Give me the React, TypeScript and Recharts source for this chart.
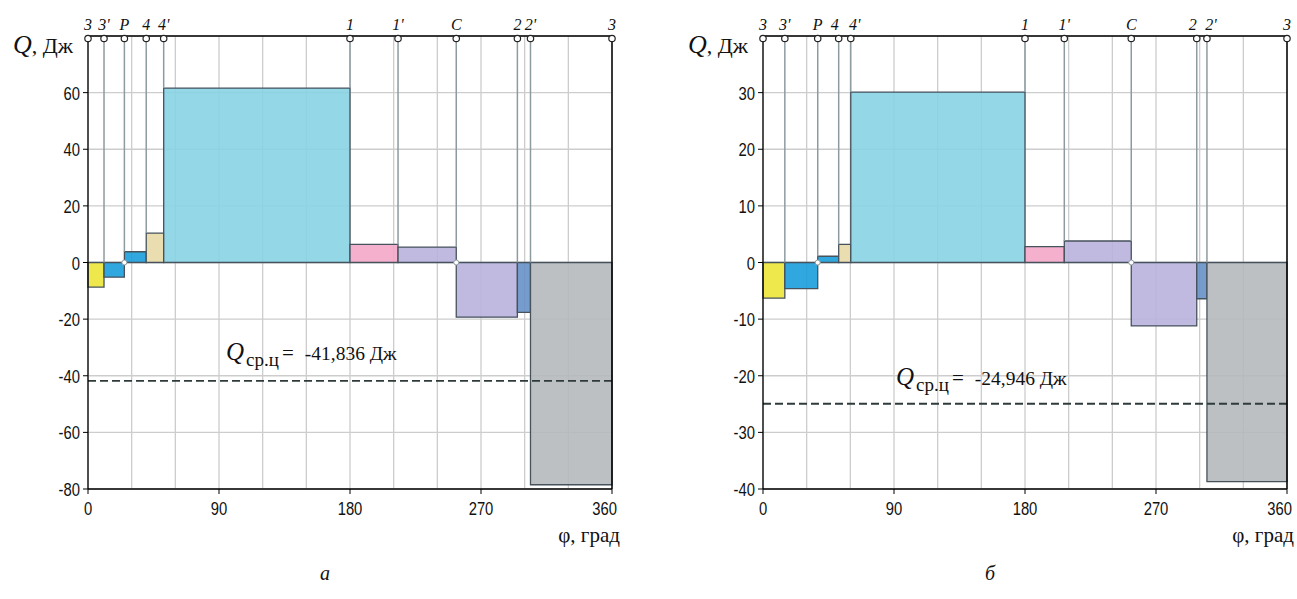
import React from 'react';
import {
  ComposedChart,
  Line,
  XAxis,
  YAxis,
  CartesianGrid,
  ReferenceArea,
  ReferenceLine,
  ReferenceDot,
} from 'recharts';

// cycle points (deg) and the work Q (J) on each interval between them
const POINT_LABELS = ['3', "3'", 'P', '4', "4'", '1', "1'", 'C', '2', "2'", '3'];

const LEFT_BOUNDS = [0, 11, 25, 40, 52, 180, 213, 253, 295, 304, 360];
const LEFT_VALUES = [-8.7, -5.2, 3.8, 10.4, 61.6, 6.4, 5.45, -19.3, -17.6, -78.5];
const LEFT_MEAN = -41.836;
const LEFT_Y_TICKS = [-80, -60, -40, -20, 0, 20, 40, 60];

const RIGHT_BOUNDS = [0, 15, 37.6, 52, 60.3, 180, 207, 253, 298, 305, 360];
const RIGHT_VALUES = [-6.3, -4.6, 1.1, 3.2, 30.1, 2.8, 3.8, -11.2, -6.4, -38.7];
const RIGHT_MEAN = -24.946;
const RIGHT_Y_TICKS = [-40, -30, -20, -10, 0, 10, 20, 30];

const X_TICKS = [0, 30, 60, 90, 120, 150, 180, 210, 240, 270, 300, 330, 360];
const X_LABELS = [0, 90, 180, 270, 360];

const SEGMENT_COLORS = [
  '#ece63a',
  '#1a9fdc',
  '#1a9fdc',
  '#e8d9a6',
  '#88d3e4',
  '#f4a7c8',
  '#b9b1dd',
  '#b9b1dd',
  '#6691c6',
  '#b5b9bd',
];

const SERIF = "'Liberation Serif', 'Times New Roman', serif";
const SANS = "'Liberation Sans', Arial, sans-serif";
const MARK_LINE = '#8d9ba1';
const NARROW = 0.78;

function XTick(props: any) {
  const { x, y, payload } = props;
  if (!X_LABELS.includes(payload.value)) return <g />;
  const last = payload.value === X_LABELS[X_LABELS.length - 1];
  return (
    <g>
      <line x1={x} x2={x} y1={y} y2={y + 5} stroke="#000" />
      <text
        transform={`translate(${last ? x + 5 : x},${y + 26}) scale(${NARROW},1)`}
        textAnchor={last ? 'end' : 'middle'}
        fontSize={19}
        fontFamily={SANS}
        fill="#111"
      >
        {payload.value}
      </text>
    </g>
  );
}

function YTick(props: any) {
  const { x, y, payload } = props;
  return (
    <text
      transform={`translate(${x},${y + 7}) scale(${NARROW},1)`}
      textAnchor="end"
      fontSize={19}
      fontFamily={SANS}
      fill="#111"
    >
      {payload.value}
    </text>
  );
}

function topMarker(label: string, dx: number) {
  return (props: any) => {
    const { cx, cy } = props;
    return (
      <g>
        <circle cx={cx} cy={cy + 2.5} r={3.2} fill="#fff" stroke="#222" strokeWidth={1.2} />
        <text
          x={cx + dx}
          y={cy - 6}
          textAnchor="middle"
          fontSize={16}
          fontStyle="italic"
          fontFamily={SERIF}
          fill="#111"
        >
          {label}
        </text>
      </g>
    );
  };
}

interface ChartProps {
  bounds: number[];
  values: number[];
  mean: number;
  yTicks: number[];
  yMax: number;
  width: number;
  right: number;
}

function CycleChart({ bounds, values, mean, yTicks, yMax, width, right }: ChartProps) {
  const yMin = yTicks[0];
  const data = bounds.map((x) => ({ x, mean }));

  // nudge labels of points that sit very close together
  const labelDx = bounds.map((x, i) => {
    if (i < bounds.length - 1 && bounds[i + 1] - x < 8.5) return -4;
    if (i > 0 && x - bounds[i - 1] < 8.5) return 4;
    return 0;
  });

  return (
    <ComposedChart
      width={width}
      height={540}
      data={data}
      margin={{ top: 36, right, bottom: 21, left: 0 }}
    >
      <CartesianGrid stroke="#cdcdcd" strokeWidth={1.3} />
      <XAxis
        dataKey="x"
        type="number"
        domain={[0, 360]}
        ticks={X_TICKS}
        interval={0}
        tick={<XTick />}
        tickLine={false}
        tickSize={0}
        tickMargin={0}
        height={30}
        axisLine={{ stroke: '#000', strokeWidth: 1.3 }}
        allowDataOverflow
      />
      <YAxis
        type="number"
        domain={[yMin, yMax]}
        ticks={yTicks}
        interval={0}
        width={88}
        tick={<YTick />}
        tickLine={{ stroke: '#000' }}
        tickSize={5}
        tickMargin={3}
        axisLine={{ stroke: '#000', strokeWidth: 1.3 }}
        allowDataOverflow
      />
      {values.map((v, i) => (
        <ReferenceArea
          key={`seg-${i}`}
          x1={bounds[i]}
          x2={bounds[i + 1]}
          y1={0}
          y2={v}
          fill={SEGMENT_COLORS[i]}
          fillOpacity={0.9}
          stroke="#46525c"
          strokeWidth={1.3}
          ifOverflow="visible"
        />
      ))}
      {bounds.slice(1, -1).map((x, k) => {
        const i = k + 1;
        const end = Math.max(0, values[i - 1], values[i]);
        return (
          <ReferenceLine
            key={`mark-${i}`}
            segment={[
              { x, y: yMax },
              { x, y: end },
            ]}
            stroke={MARK_LINE}
            strokeWidth={1.5}
            ifOverflow="visible"
          />
        );
      })}
      <Line
        dataKey="mean"
        type="linear"
        stroke="#2f3b3b"
        strokeWidth={1.8}
        strokeDasharray="8 4"
        dot={false}
        activeDot={false}
        isAnimationActive={false}
      />
      <ReferenceLine y={yMax} stroke="#000" strokeWidth={1.5} ifOverflow="visible" />
      <ReferenceLine x={360} stroke="#000" strokeWidth={1.5} ifOverflow="visible" />
      {bounds.slice(1, -1).map((x, k) => {
        const i = k + 1;
        if (Math.sign(values[i - 1]) === Math.sign(values[i])) return null;
        return (
          <ReferenceDot
            key={`zero-${i}`}
            x={x}
            y={0}
            r={2.5}
            fill="#fff"
            stroke={MARK_LINE}
            ifOverflow="visible"
          />
        );
      })}
      {bounds.map((x, i) => (
        <ReferenceDot
          key={`top-${i}`}
          x={x}
          y={yMax}
          r={3}
          ifOverflow="visible"
          shape={topMarker(POINT_LABELS[i], labelDx[i])}
        />
      ))}
    </ComposedChart>
  );
}

function fmt(v: number) {
  return v.toFixed(3).replace('.', ',');
}

function MeanText({ x, y, mean }: { x: number; y: number; mean: number }) {
  return (
    <text x={x} y={y} fontFamily={SERIF} fontSize={19.5} fill="#111">
      <tspan fontStyle="italic" fontSize={25}>
        Q
      </tspan>
      <tspan fontSize={19} dx={2} dy={6}>
        ср.ц
      </tspan>
      <tspan dx={3} dy={-6} fontSize={21}>
        =
      </tspan>
      <tspan dx={11}>{fmt(mean)} Дж</tspan>
    </text>
  );
}

function AxisTitle({ x, y }: { x: number; y: number }) {
  return (
    <text x={x} y={y} fontFamily={SERIF} fontSize={22} fill="#111">
      <tspan fontStyle="italic" fontSize={26}>
        Q
      </tspan>
      <tspan>, Дж</tspan>
    </text>
  );
}

export default function App() {
  return (
    <div
      style={{
        position: 'absolute',
        left: 0,
        top: 0,
        width: 1297,
        height: 599,
        background: '#fff',
        overflow: 'hidden',
      }}
    >
      <div style={{ position: 'absolute', left: 0, top: 0 }}>
        <CycleChart
          bounds={LEFT_BOUNDS}
          values={LEFT_VALUES}
          mean={LEFT_MEAN}
          yTicks={LEFT_Y_TICKS}
          yMax={80}
          width={640}
          right={28}
        />
      </div>
      <div style={{ position: 'absolute', left: 675, top: 0 }}>
        <CycleChart
          bounds={RIGHT_BOUNDS}
          values={RIGHT_VALUES}
          mean={RIGHT_MEAN}
          yTicks={RIGHT_Y_TICKS}
          yMax={40}
          width={622}
          right={10}
        />
      </div>
      <svg
        width={1297}
        height={599}
        style={{ position: 'absolute', left: 0, top: 0, pointerEvents: 'none' }}
      >
        <AxisTitle x={13} y={53} />
        <AxisTitle x={688} y={53} />
        <MeanText x={226} y={360} mean={LEFT_MEAN} />
        <MeanText x={896} y={385} mean={RIGHT_MEAN} />
        <text x={620} y={542} textAnchor="end" fontFamily={SERIF} fontSize={21} fill="#111">
          φ, град
        </text>
        <text x={1294} y={542} textAnchor="end" fontFamily={SERIF} fontSize={21} fill="#111">
          φ, град
        </text>
        <text x={325} y={580} textAnchor="middle" fontFamily={SERIF} fontStyle="italic" fontSize={20} fill="#111">
          а
        </text>
        <text x={990} y={580} textAnchor="middle" fontFamily={SERIF} fontStyle="italic" fontSize={20} fill="#111">
          б
        </text>
      </svg>
    </div>
  );
}
